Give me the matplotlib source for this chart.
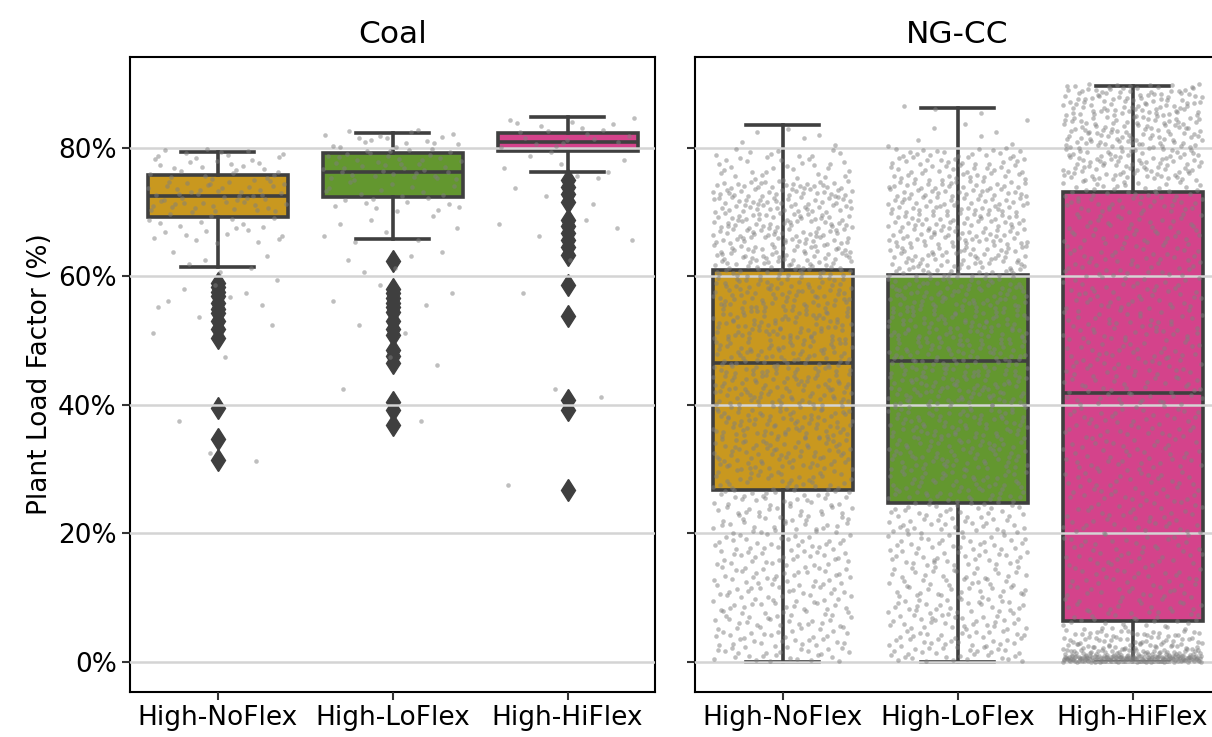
import matplotlib
matplotlib.use("Agg")
import matplotlib.pyplot as plt
from matplotlib.ticker import FuncFormatter

# ---------------- data ----------------
categories = ["High-NoFlex", "High-LoFlex", "High-HiFlex"]
panels = ["Coal", "NG-CC"]
box_colors = ["#C9981F", "#63972F", "#D4438B"]

# box statistics, in percent: [NoFlex, LoFlex, HiFlex]
coal_q1 = [69.2, 72.4, 79.6]
coal_med = [72.6, 76.3, 81.0]
coal_q3 = [75.8, 79.2, 82.3]
coal_whislo = [61.4, 65.8, 76.2]
coal_whishi = [79.4, 82.4, 84.8]

ng_q1 = [26.8, 24.8, 6.4]
ng_med = [46.6, 46.9, 41.8]
ng_q3 = [61.0, 60.3, 73.2]
ng_whislo = [0.0, 0.0, 0.0]
ng_whishi = [83.5, 86.3, 89.6]

# outliers (diamonds), percent
coal_fliers_noflex = [59.0, 58.3, 57.6, 56.9, 55.8, 55.0, 54.3, 53.0, 51.9, 50.5,
                      39.6, 34.7, 31.5]
coal_fliers_loflex = [62.4, 58.0, 57.4, 56.7, 55.9, 55.2, 54.5, 53.0, 51.9, 50.9,
                      48.6, 47.6, 46.5, 40.5, 39.2, 36.9]
coal_fliers_hiflex = [75.0, 74.0, 72.9, 71.6, 68.8, 67.8, 66.7, 65.7, 64.6, 63.3,
                      58.7, 53.9, 40.8, 39.2, 26.7]

# strip-plot point density: bin edges (percent) and point counts per bin
coal_edges_noflex = [30, 35, 40, 45, 50, 55, 60, 65, 70, 75, 80]
coal_counts_noflex = [2, 1, 0, 1, 3, 8, 6, 22, 50, 32]
coal_edges_loflex = [35, 40, 45, 50, 55, 60, 65, 70, 75, 80, 83]
coal_counts_loflex = [1, 1, 2, 2, 4, 5, 8, 22, 40, 18]
coal_edges_hiflex = [25, 30, 35, 40, 45, 50, 55, 60, 65, 70, 75, 80, 85]
coal_counts_hiflex = [1, 0, 0, 2, 0, 0, 1, 1, 5, 3, 8, 20, 45]

ng_edges_noflex = [0, 5, 10, 15, 20, 25, 30, 35, 40, 45, 50, 55, 60, 65, 70, 75, 80, 84]
ng_counts_noflex = [55, 55, 55, 55, 55, 62, 80, 88, 88, 88, 88, 88, 94, 94, 94, 38, 6]
ng_edges_loflex = [0, 5, 10, 15, 20, 25, 30, 35, 40, 45, 50, 55, 60, 65, 70, 75, 80, 85, 87]
ng_counts_loflex = [62, 60, 56, 56, 56, 68, 75, 80, 88, 88, 88, 88, 88, 88, 88, 68, 8, 3]
ng_edges_hiflex = [0, 1, 2, 3, 4, 5, 10, 15, 20, 25, 30, 35, 40, 45, 50, 55, 60, 65,
                   70, 75, 80, 85, 90]
ng_counts_hiflex = [160, 50, 30, 25, 22, 50, 44, 44, 44, 44, 44, 45, 48, 50, 50, 50,
                    50, 50, 62, 94, 100, 100]

yticks = [0, 20, 40, 60, 80]
ylabel = "Plant Load Factor (%)"

# ---------------- helpers ----------------
def vdc(n, base):
    v, denom = 0.0, 1.0
    while n:
        n, r = divmod(n, base)
        denom *= base
        v += r / denom
    return v

def strip_points(pos, edges, counts, width=0.8, seed=1):
    xs, ys = [], []
    k = seed
    for lo, hi, n in zip(edges[:-1], edges[1:], counts):
        for i in range(n):
            k += 1
            ys.append(lo + (hi - lo) * vdc(i + 1, 2))
            xs.append(pos + width * (vdc(k, 3) - 0.5))
    return xs, ys

def make_stats(q1, med, q3, lo, hi, fliers):
    return [dict(q1=a, med=b, q3=c, whislo=d, whishi=e, fliers=f, label=lab)
            for a, b, c, d, e, f, lab in zip(q1, med, q3, lo, hi, fliers, categories)]

coal_stats = make_stats(coal_q1, coal_med, coal_q3, coal_whislo, coal_whishi,
                        [coal_fliers_noflex, coal_fliers_loflex, coal_fliers_hiflex])
ng_stats = make_stats(ng_q1, ng_med, ng_q3, ng_whislo, ng_whishi, [[], [], []])

coal_strips = [(coal_edges_noflex, coal_counts_noflex),
               (coal_edges_loflex, coal_counts_loflex),
               (coal_edges_hiflex, coal_counts_hiflex)]
ng_strips = [(ng_edges_noflex, ng_counts_noflex),
             (ng_edges_loflex, ng_counts_loflex),
             (ng_edges_hiflex, ng_counts_hiflex)]

# ---------------- figure ----------------
W, H = 1212, 737
fig = plt.figure(figsize=(W / 100, H / 100), dpi=100)
ax_w = 525 / W
ax_b = 1 - 692 / H
ax_h = (692 - 57) / H
ax1 = fig.add_axes([130 / W, ax_b, ax_w, ax_h])
ax2 = fig.add_axes([695 / W, ax_b, ax_w, ax_h], sharey=ax1)

edge = "#3f3f3f"
lw = 2.6
fs = 19
for ax, stats, strips, title in [(ax1, coal_stats, coal_strips, "Coal"),
                                 (ax2, ng_stats, ng_strips, "NG-CC")]:
    bp = ax.bxp(stats, positions=range(3), widths=0.8, patch_artist=True,
                showfliers=True,
                boxprops=dict(edgecolor=edge, linewidth=lw),
                medianprops=dict(color=edge, linewidth=lw),
                whiskerprops=dict(color=edge, linewidth=lw),
                capprops=dict(color=edge, linewidth=lw),
                capwidths=0.42,
                flierprops=dict(marker="d", markerfacecolor=edge,
                                markeredgecolor=edge, markersize=11.5))
    for patch, c in zip(bp["boxes"], box_colors):
        patch.set_facecolor(c)
    for i, (edges, counts) in enumerate(strips):
        xs, ys = strip_points(i, edges, counts, seed=7 * i + 3)
        ax.plot(xs, ys, linestyle="none", marker="o", markersize=3.3,
                markerfacecolor="#7f7f7f", markeredgecolor="none", alpha=0.5,
                zorder=4)
    ax.set_xlim(-0.5, 2.5)
    ax.set_xticks(range(3))
    ax.set_xticklabels(categories, fontsize=fs)
    ax.set_title(title, fontsize=22.5, pad=10)
    ax.yaxis.grid(True, color="#d4d4d4", linewidth=1.8, zorder=5)
    ax.set_axisbelow(False)
    for sp in ax.spines.values():
        sp.set_linewidth(1.5)
        sp.set_color("black")
    ax.tick_params(axis="both", length=6, width=1.5, color="#333333", labelsize=fs)
    for gl in ax.get_ygridlines():
        gl.set_zorder(5)

ax1.set_ylim(-4.67, 94.16)
ax1.set_yticks(yticks)
ax1.yaxis.set_major_formatter(FuncFormatter(lambda v, p: f"{v:.0f}%"))
ax1.set_ylabel(ylabel, fontsize=fs)
plt.setp(ax2.get_yticklabels(), visible=False)

fig.savefig("out.png", dpi=100)
